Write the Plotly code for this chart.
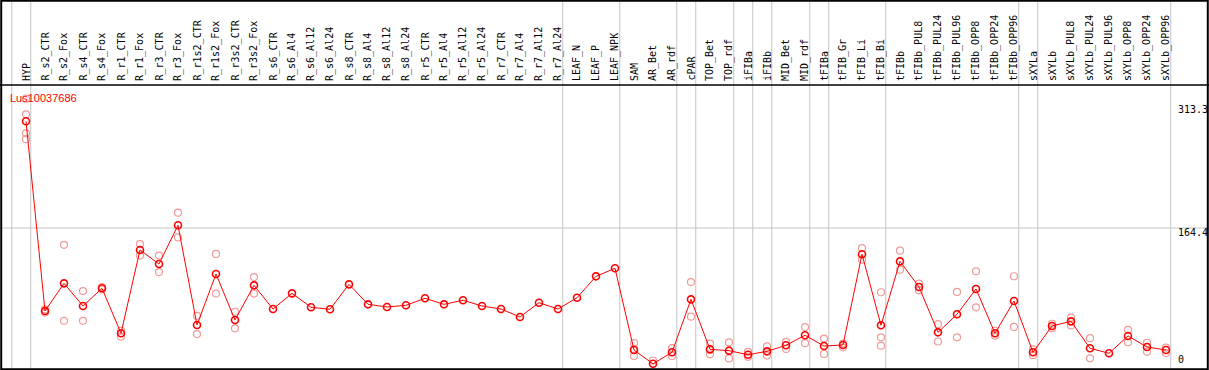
import plotly.graph_objects as go

title = "Lus10037686"

categories = [
    "HYP", "R_s2_CTR", "R_s2_Fox", "R_s4_CTR", "R_s4_Fox", "R_r1_CTR", "R_r1_Fox",
    "R_r3_CTR", "R_r3_Fox", "R_r1s2_CTR", "R_r1s2_Fox", "R_r3s2_CTR", "R_r3s2_Fox",
    "R_s6_CTR", "R_s6_Al4", "R_s6_Al12", "R_s6_Al24", "R_s8_CTR", "R_s8_Al4",
    "R_s8_Al12", "R_s8_Al24", "R_r5_CTR", "R_r5_Al4", "R_r5_Al12", "R_r5_Al24",
    "R_r7_CTR", "R_r7_Al4", "R_r7_Al12", "R_r7_Al24", "LEAF_N", "LEAF_P", "LEAF_NPK",
    "SAM", "AR_Bet", "AR_rdf", "cPAR", "TOP_Bet", "TOP_rdf", "iFIBa", "iFIBb",
    "MID_Bet", "MID_rdf", "tFIBa", "tFIB_Gr", "tFIB_Li", "tFIB_Bi", "tFIBb",
    "tFIBb_PUL8", "tFIBb_PUL24", "tFIBb_PUL96", "tFIBb_OPP8", "tFIBb_OPP24",
    "tFIBb_OPP96", "sXYLa", "sXYLb", "sXYLb_PUL8", "sXYLb_PUL24", "sXYLb_PUL96",
    "sXYLb_OPP8", "sXYLb_OPP24", "sXYLb_OPP96",
]

# sizes of the sample groups (separated by vertical grey lines)
group_sizes = [1, 28, 3, 3, 1, 2, 1, 1, 2, 1, 3, 7, 1, 7]

means = [
    293.6, 63.9, 97.4, 70.0, 91.4, 36.9, 137.8, 120.8, 167.7, 47.0, 108.7, 53.0, 95.0,
    66.3, 85.3, 68.4, 66.0, 96.2, 72.0, 68.8, 70.8, 79.3, 72.0, 76.9, 70.0,
    66.3, 56.7, 74.0, 66.3, 80.0, 105.9, 115.6,
    16.7, 0.0, 13.9, 78.0, 17.5, 15.9, 11.0, 15.1, 22.4, 34.5, 21.5, 22.8, 132.6,
    46.6, 124.0, 93.0, 38.1, 59.9, 90.6, 36.9, 76.0, 13.9, 45.8, 51.4, 18.8, 12.7,
    33.7, 20.3, 16.7,
]

replicates = [
    [321, 302, 279, 272], [66, 62], [144, 52], [88, 52], [93, 90], [40, 33],
    [145, 131], [131, 111], [183, 153], [58, 36], [133, 85], [63, 43], [105, 85],
    [], [], [], [], [], [], [], [], [], [], [], [], [], [], [], [], [], [], [],
    [25, 18, 9.5], [4], [19, 9.5], [99, 57], [24.5, 11.5], [26, 6.5], [14.5, 8.5],
    [21, 10], [26.5, 18], [44.5, 25], [30.5, 12], [24.5, 20], [140, 126],
    [86.6, 32, 22], [137, 114], [97, 89], [48, 27], [87, 32], [112, 68.4],
    [40, 34], [106, 44.6], [17.5, 10.5], [48.5, 43], [56, 46.5], [31, 6.6], [],
    [41, 26], [25.5, 14.5], [19.5, 13],
]

axis_labels = ["313.3", "164.4", "0"]
axis_values = [313.3, 164.4, 0.0]

W, H = 1209, 370
HEADER = 85
X0, DX = 26.0, 19.0
Y0PX, PXPU = 363.8, 0.826

idx = list(range(len(categories)))
xmin = -X0 / DX
xmax = (W - X0) / DX
ymax = Y0PX / PXPU
ymin = -(H - Y0PX) / PXPU


def py(px):
    return 1 - px / H


fig = go.Figure()

rx, ry = [], []
for i, reps in enumerate(replicates):
    for r in reps:
        rx.append(i)
        ry.append(r)

fig.add_trace(go.Scatter(
    x=rx, y=ry, mode="markers",
    marker=dict(symbol="circle-open", size=7, color="#f09a9a", line=dict(width=1.2)),
    hoverinfo="skip", showlegend=False,
))
fig.add_trace(go.Scatter(
    x=idx, y=means, mode="lines+markers",
    line=dict(color="#ff0000", width=1),
    marker=dict(symbol="circle-open", size=7, color="#ff0000", line=dict(width=1.6)),
    text=categories, showlegend=False,
))

shapes = []
grey = "#c4c4c4"
# group separators
pos = -1
bounds = [pos]
for g in group_sizes:
    pos += g
    bounds.append(pos)
for b in bounds:
    shapes.append(dict(type="line", xref="x", yref="paper", x0=b + 0.25, x1=b + 0.25,
                       y0=0, y1=1, line=dict(color=grey, width=1), layer="below"))
# horizontal middle gridline
shapes.append(dict(type="line", xref="paper", yref="y", x0=0, x1=1,
                   y0=axis_values[1], y1=axis_values[1],
                   line=dict(color=grey, width=1), layer="below"))
# header separator
shapes.append(dict(type="line", xref="paper", yref="paper", x0=0, x1=1,
                   y0=py(HEADER), y1=py(HEADER), line=dict(color="black", width=1.5)))
# frame
shapes.append(dict(type="rect", xref="paper", yref="paper", x0=0.001, x1=0.999,
                   y0=0.002, y1=0.998, line=dict(color="black", width=2)))
# white cover under header so markers don't show there
annotations = []
for i, c in enumerate(categories):
    annotations.append(dict(
        x=i, xref="x", y=py(83), yref="paper", text=c, showarrow=False,
        textangle=-90, xanchor="center", yanchor="bottom",
        font=dict(family="DejaVu Sans Mono", size=10, color="black"),
    ))

annotations.append(dict(
    x=8 / W, xref="paper", y=py(90), yref="paper", text=title, showarrow=False,
    xanchor="left", yanchor="top",
    font=dict(family="Liberation Sans, Arial", size=11, color="#ff0000"),
))
for lab, v, anc in zip(axis_labels, axis_values, ["top", "top", "bottom"]):
    ypos = Y0PX - v * PXPU
    ypos = ypos - 3 if anc == "top" else ypos + 3
    annotations.append(dict(
        x=1176 / W, xref="paper", y=py(ypos), yref="paper", text=lab,
        showarrow=False, xanchor="left", yanchor=anc,
        font=dict(family="DejaVu Sans Mono", size=10, color="black"),
    ))

fig.update_layout(
    width=W, height=H,
    margin=dict(l=0, r=0, t=0, b=0, pad=0),
    paper_bgcolor="white", plot_bgcolor="white",
    xaxis=dict(range=[xmin, xmax], visible=False, fixedrange=True),
    yaxis=dict(range=[ymin, ymax], visible=False, fixedrange=True),
    shapes=shapes, annotations=annotations,
    showlegend=False,
)

fig.write_html("out.html", config={"displayModeBar": False},
               post_script="document.body.style.margin='0';document.body.style.overflow='hidden';")
